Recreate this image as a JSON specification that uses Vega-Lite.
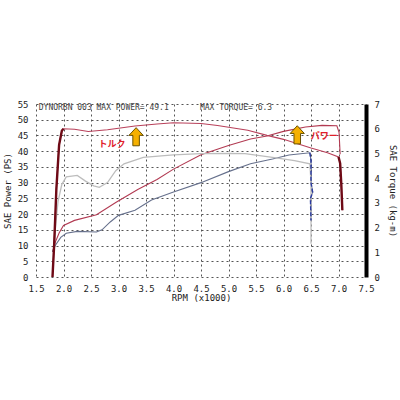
{
  "$schema": "https://vega.github.io/schema/vega-lite/v6.json",
  "autosize": "none",
  "width": 330,
  "height": 173,
  "padding": {"left": 36, "top": 104, "right": 34, "bottom": 123},
  "background": "white",
  "config": {
    "view": {"stroke": null},
    "axis": {"labelFont": "DejaVu Sans Mono", "titleFont": "DejaVu Sans Mono", "labelColor": "#222", "titleColor": "#222", "labelFontSize": 9, "titleFontSize": 9, "titleFontWeight": "normal", "tickSize": 0, "labelFlush": false, "labelOverlap": false, "gridColor": "#555", "gridDash": [2, 3], "gridWidth": 1, "gridOpacity": 1}
  },
  "datasets": {
    "curves": [
      {"series": "T1", "rpm": 1.80, "v": 0},
      {"series": "T1", "rpm": 1.83, "v": 1.3},
      {"series": "T1", "rpm": 1.87, "v": 3.55},
      {"series": "T1", "rpm": 1.92, "v": 5.35},
      {"series": "T1", "rpm": 1.97, "v": 5.92},
      {"series": "T1", "rpm": 2.0, "v": 6.0},
      {"series": "T1", "rpm": 2.2, "v": 5.98},
      {"series": "T1", "rpm": 2.45, "v": 5.89},
      {"series": "T1", "rpm": 2.8, "v": 5.96},
      {"series": "T1", "rpm": 3.3, "v": 6.11},
      {"series": "T1", "rpm": 3.7, "v": 6.19},
      {"series": "T1", "rpm": 4.0, "v": 6.24},
      {"series": "T1", "rpm": 4.5, "v": 6.21},
      {"series": "T1", "rpm": 4.8, "v": 6.13},
      {"series": "T1", "rpm": 5.35, "v": 5.94},
      {"series": "T1", "rpm": 5.7, "v": 5.73},
      {"series": "T1", "rpm": 6.0, "v": 5.57},
      {"series": "T1", "rpm": 6.5, "v": 5.22},
      {"series": "T1", "rpm": 6.8, "v": 5.03},
      {"series": "T1", "rpm": 7.0, "v": 4.86},
      {"series": "T1", "rpm": 7.03, "v": 4.6},
      {"series": "T1", "rpm": 7.05, "v": 3.8},
      {"series": "T1", "rpm": 7.07, "v": 2.7},
      {"series": "T2", "rpm": 1.82, "v": 1.15},
      {"series": "T2", "rpm": 1.86, "v": 2.16},
      {"series": "T2", "rpm": 1.9, "v": 3.05},
      {"series": "T2", "rpm": 1.97, "v": 3.75},
      {"series": "T2", "rpm": 2.05, "v": 4.05},
      {"series": "T2", "rpm": 2.25, "v": 4.11},
      {"series": "T2", "rpm": 2.4, "v": 3.88},
      {"series": "T2", "rpm": 2.55, "v": 3.69},
      {"series": "T2", "rpm": 2.65, "v": 3.63},
      {"series": "T2", "rpm": 2.8, "v": 3.82},
      {"series": "T2", "rpm": 2.95, "v": 4.3},
      {"series": "T2", "rpm": 3.1, "v": 4.58},
      {"series": "T2", "rpm": 3.45, "v": 4.84},
      {"series": "T2", "rpm": 4.0, "v": 4.94},
      {"series": "T2", "rpm": 4.5, "v": 4.99},
      {"series": "T2", "rpm": 5.0, "v": 5.0},
      {"series": "T2", "rpm": 5.3, "v": 4.99},
      {"series": "T2", "rpm": 5.8, "v": 4.84},
      {"series": "T2", "rpm": 6.2, "v": 4.71},
      {"series": "T2", "rpm": 6.48, "v": 4.58},
      {"series": "T2", "rpm": 6.5, "v": 3.8},
      {"series": "T2", "rpm": 6.5, "v": 2.5},
      {"series": "T2", "rpm": 6.5, "v": 1.35},
      {"series": "P1", "rpm": 1.8, "v": 8},
      {"series": "P1", "rpm": 1.85, "v": 11},
      {"series": "P1", "rpm": 1.92, "v": 14},
      {"series": "P1", "rpm": 2.0, "v": 16.4},
      {"series": "P1", "rpm": 2.2, "v": 18},
      {"series": "P1", "rpm": 2.6, "v": 19.8},
      {"series": "P1", "rpm": 2.95, "v": 23.7},
      {"series": "P1", "rpm": 3.35, "v": 27.8},
      {"series": "P1", "rpm": 3.7, "v": 31},
      {"series": "P1", "rpm": 4.0, "v": 34.3},
      {"series": "P1", "rpm": 4.5, "v": 38.9},
      {"series": "P1", "rpm": 5.0, "v": 41.8},
      {"series": "P1", "rpm": 5.4, "v": 43.9},
      {"series": "P1", "rpm": 5.7, "v": 44.8},
      {"series": "P1", "rpm": 6.0, "v": 46.3},
      {"series": "P1", "rpm": 6.4, "v": 47.7},
      {"series": "P1", "rpm": 6.7, "v": 48.2},
      {"series": "P1", "rpm": 6.97, "v": 48.1},
      {"series": "P1", "rpm": 7.01, "v": 46},
      {"series": "P1", "rpm": 7.03, "v": 39},
      {"series": "P2", "rpm": 1.8, "v": 8},
      {"series": "P2", "rpm": 1.85, "v": 10},
      {"series": "P2", "rpm": 1.95, "v": 12.6},
      {"series": "P2", "rpm": 2.05, "v": 13.9},
      {"series": "P2", "rpm": 2.25, "v": 14.5},
      {"series": "P2", "rpm": 2.6, "v": 14.3},
      {"series": "P2", "rpm": 2.7, "v": 15},
      {"series": "P2", "rpm": 2.85, "v": 17.5},
      {"series": "P2", "rpm": 3.0, "v": 19.6},
      {"series": "P2", "rpm": 3.3, "v": 21.2},
      {"series": "P2", "rpm": 3.6, "v": 24.5},
      {"series": "P2", "rpm": 4.0, "v": 27},
      {"series": "P2", "rpm": 4.5, "v": 30},
      {"series": "P2", "rpm": 5.0, "v": 33.5},
      {"series": "P2", "rpm": 5.4, "v": 36},
      {"series": "P2", "rpm": 5.8, "v": 37.5},
      {"series": "P2", "rpm": 6.1, "v": 38.8},
      {"series": "P2", "rpm": 6.48, "v": 39.5},
      {"series": "P2", "rpm": 6.5, "v": 37},
      {"series": "P2", "rpm": 6.5, "v": 30},
      {"series": "P2", "rpm": 6.53, "v": 27},
      {"series": "P2", "rpm": 6.49, "v": 25},
      {"series": "P2", "rpm": 6.5, "v": 18}
    ],
    "header": [
      {"rpm": 1.55, "v": 53.8, "text": "DYNORBN 003 :"},
      {"rpm": 2.6, "v": 53.8, "text": "MAX POWER= 49.1"},
      {"rpm": 4.48, "v": 53.8, "text": "MAX TORQUE= 6.3"}
    ],
    "labels": [
      {"rpm": 2.88, "v": 42.3, "text": "トルク"},
      {"rpm": 6.74, "v": 44.8, "text": "パワー"}
    ],
    "arrows": [
      {"rpm": 3.32, "v": 44.6},
      {"rpm": 6.25, "v": 45.2}
    ]
  },
  "encoding": {
    "x": {"field": "rpm", "type": "quantitative", "scale": {"domain": [1.5, 7.5], "nice": false}, "axis": {"values": [1.5, 2, 2.5, 3, 3.5, 4, 4.5, 5, 5.5, 6, 6.5, 7, 7.5], "format": ".1f", "title": "RPM (x1000)", "domain": false, "grid": true, "labelPadding": 7, "titlePadding": 0}}
  },
  "layer": [
    {
      "data": {"name": "curves"},
      "transform": [{"filter": "datum.series == 'P1'"}],
      "mark": {"type": "line", "color": "#b23a52", "strokeWidth": 1.1},
      "encoding": {
        "y": {"field": "v", "type": "quantitative", "scale": {"domain": [0, 55], "nice": false}, "axis": {"orient": "left", "values": [0, 5, 10, 15, 20, 25, 30, 35, 40, 45, 50, 55], "title": "SAE Power (PS)", "domain": false, "grid": true, "labelPadding": 8, "titlePadding": 5}},
        "order": {"value": null}
      }
    },
    {
      "data": {"name": "curves"},
      "transform": [{"filter": "datum.series == 'P2'"}],
      "mark": {"type": "line", "color": "#66708c", "strokeWidth": 1.1},
      "encoding": {
        "y": {"field": "v", "type": "quantitative", "scale": {"domain": [0, 55], "nice": false}, "axis": null},
        "order": {"value": null}
      }
    },
    {
      "data": {"name": "curves"},
      "transform": [{"filter": "datum.series == 'T2'"}],
      "mark": {"type": "line", "color": "#bdbdbd", "strokeWidth": 1.3},
      "encoding": {
        "y": {"field": "v", "type": "quantitative", "scale": {"domain": [0, 7], "nice": false}, "axis": null},
        "order": {"value": null}
      }
    },
    {
      "data": {"name": "curves"},
      "transform": [{"filter": "datum.series == 'P2' && datum.rpm >= 6.48"}],
      "mark": {"type": "line", "color": "#2a3aa0", "strokeWidth": 1.4, "strokeDash": [4, 2]},
      "encoding": {
        "y": {"field": "v", "type": "quantitative", "scale": {"domain": [0, 55], "nice": false}, "axis": null},
        "order": {"value": null}
      }
    },
    {
      "data": {"name": "curves"},
      "transform": [{"filter": "datum.series == 'T1'"}],
      "mark": {"type": "line", "color": "#b8405a", "strokeWidth": 1.1},
      "encoding": {
        "y": {"field": "v", "type": "quantitative", "scale": {"domain": [0, 7], "nice": false}, "axis": {"orient": "right", "values": [0, 1, 2, 3, 4, 5, 6, 7], "title": "SAE Torque (kg-m)", "domain": true, "domainColor": "#000", "domainWidth": 4, "grid": false, "labelPadding": 8, "titlePadding": 8}},
        "order": {"value": null}
      }
    },
    {
      "data": {"name": "curves"},
      "transform": [{"filter": "datum.series == 'T1' && (datum.rpm <= 2.0 || datum.rpm >= 7.0)"}, {"calculate": "datum.rpm <= 2.0 ? 'a' : 'b'", "as": "part"}],
      "mark": {"type": "line", "color": "#6e0a16", "strokeWidth": 2.4},
      "encoding": {
        "y": {"field": "v", "type": "quantitative", "scale": {"domain": [0, 7], "nice": false}, "axis": null},
        "detail": {"field": "part"},
        "order": {"value": null}
      }
    },
    {
      "mark": {"type": "rule", "color": "#333", "strokeWidth": 1.2},
      "encoding": {"y": {"datum": 55, "scale": {"domain": [0, 55], "nice": false}, "axis": null}}
    },
    {
      "data": {"name": "header"},
      "mark": {"type": "text", "align": "left", "baseline": "middle", "font": "DejaVu Sans Mono", "fontSize": 8, "color": "#444"},
      "encoding": {
        "y": {"field": "v", "type": "quantitative", "scale": {"domain": [0, 55], "nice": false}, "axis": null},
        "text": {"field": "text"}
      }
    },
    {
      "data": {"name": "labels"},
      "mark": {"type": "text", "align": "center", "baseline": "middle", "font": "Noto Sans CJK JP", "fontSize": 9, "fontWeight": "bold", "color": "#e0202a"},
      "encoding": {
        "y": {"field": "v", "type": "quantitative", "scale": {"domain": [0, 55], "nice": false}, "axis": null},
        "text": {"field": "text"}
      }
    },
    {
      "data": {"name": "arrows"},
      "mark": {"type": "point", "filled": true, "shape": "M0,-1 L0.78,-0.15 L0.36,-0.15 L0.36,1 L-0.36,1 L-0.36,-0.15 L-0.78,-0.15 Z", "size": 330, "fill": "#f5b000", "stroke": "#6a5200", "strokeWidth": 1, "opacity": 1},
      "encoding": {
        "y": {"field": "v", "type": "quantitative", "scale": {"domain": [0, 55], "nice": false}, "axis": null}
      }
    }
  ],
  "resolve": {"scale": {"y": "independent"}}
}
